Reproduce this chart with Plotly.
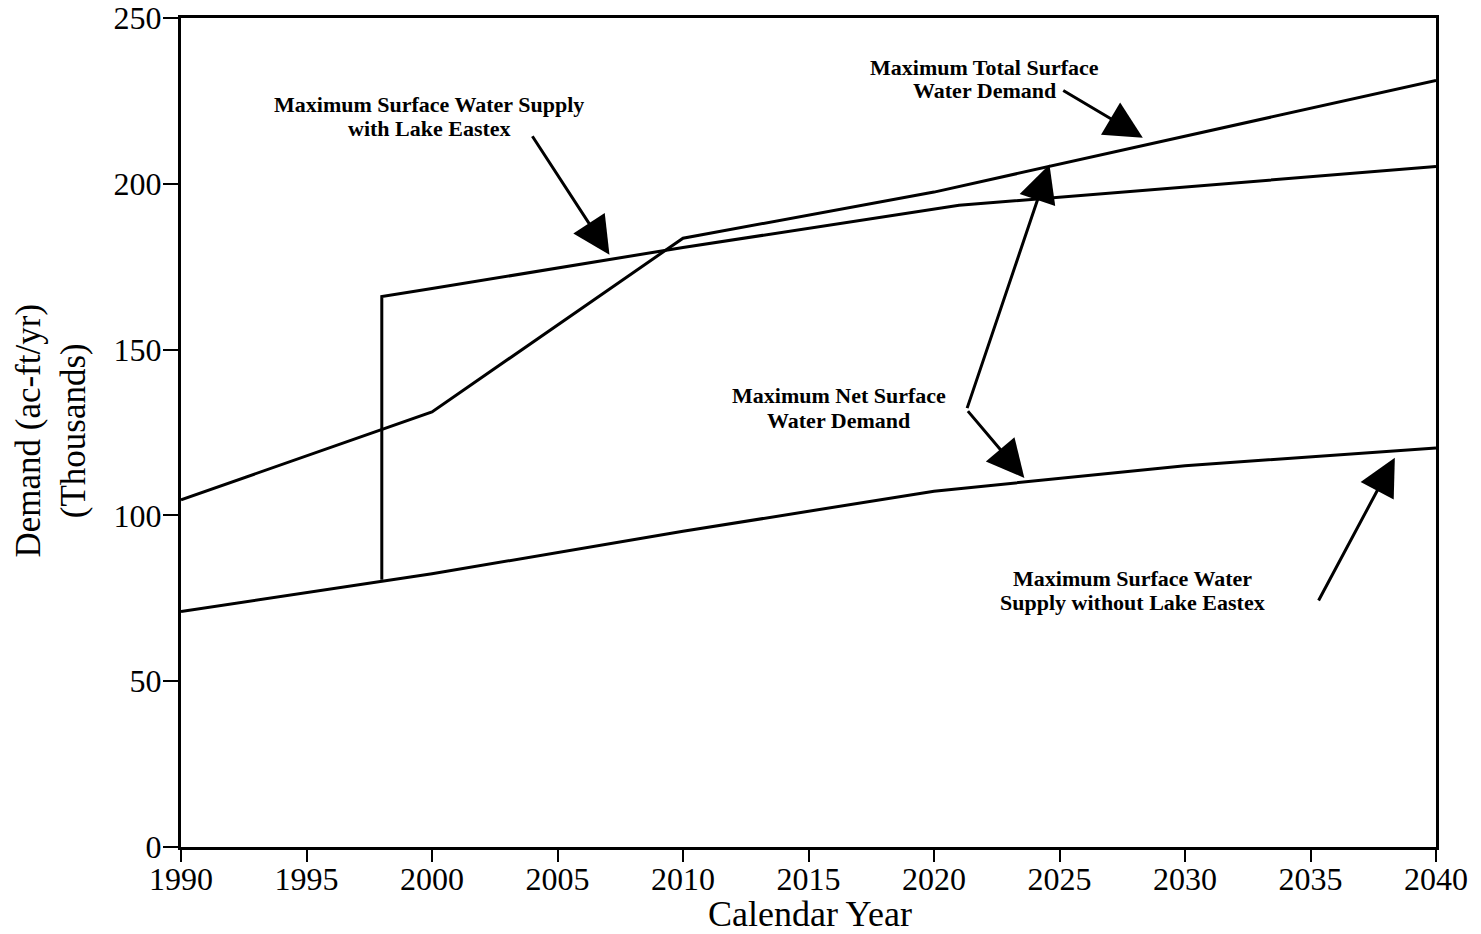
import plotly.graph_objects as go

# Data (thousands of ac-ft/yr)
demand_years = [1990, 2000, 2010, 2020, 2040]
demand_total = [104.7, 131.2, 183.6, 197.5, 231.2]

supply_with_years = [1998, 1998, 2000, 2010, 2021, 2040]
supply_with_vals = [80.6, 166.0, 168.4, 180.8, 193.5, 205.2]

supply_without_years = [1990, 2000, 2010, 2020, 2030, 2040]
supply_without_vals = [71.0, 82.4, 95.2, 107.3, 115.0, 120.3]

x_ticks = list(range(1990, 2041, 5))
y_ticks = [0, 50, 100, 150, 200, 250]

FONT = "Liberation Serif"

fig = go.Figure()
line_style = dict(color="black", width=3)
fig.add_trace(go.Scatter(x=demand_years, y=demand_total, mode="lines", line=line_style,
                         name="Maximum Total Surface Water Demand"))
fig.add_trace(go.Scatter(x=supply_with_years, y=supply_with_vals, mode="lines", line=line_style,
                         name="Maximum Surface Water Supply with Lake Eastex"))
fig.add_trace(go.Scatter(x=supply_without_years, y=supply_without_vals, mode="lines", line=line_style,
                         name="Maximum Surface Water Supply without Lake Eastex"))

# label lines: (text, x, y)
label_lines = [
    ("Maximum Surface Water Supply", 1999.9, 223.8),
    ("with Lake Eastex", 1999.9, 216.6),
    ("Maximum Total Surface", 2022.0, 235.0),
    ("Water Demand", 2022.0, 228.0),
    ("Maximum Net Surface", 2016.2, 136.1),
    ("Water Demand", 2016.2, 128.6),
    ("Maximum Surface Water", 2027.9, 81.0),
    ("Supply without Lake Eastex", 2027.9, 73.8),
]
arrows = [
    ((2003.96, 214.8), (2007.07, 178.6)),
    ((2025.09, 228.4), (2028.32, 213.9)),
    ((2021.3, 131.9), (2024.6, 205.8)),
    ((2021.3, 131.9), (2023.6, 111.3)),
    ((2035.29, 73.9), (2038.36, 117.4)),
]

annotations = []
for text, x, y in label_lines:
    annotations.append(dict(x=x, y=y, xref="x", yref="y", text="<b>" + text + "</b>",
                            showarrow=False, font=dict(family=FONT, size=22, color="black"),
                            align="center"))
for (tx, ty), (hx, hy) in arrows:
    annotations.append(dict(x=hx, y=hy, ax=tx, ay=ty, xref="x", yref="y", axref="x", ayref="y",
                            text="", showarrow=True, arrowhead=2, arrowsize=2.5, arrowwidth=3,
                            arrowcolor="black", standoff=0))

# axis titles
annotations.append(dict(x=0.501, y=-0.0805, xref="paper", yref="paper", text="Calendar Year",
                        showarrow=False, font=dict(family=FONT, size=36, color="black"),
                        xanchor="center", yanchor="middle"))
annotations.append(dict(x=-0.103, y=0.502, xref="paper", yref="paper",
                        text="Demand (ac-ft/yr)<br>(Thousands)", textangle=-90,
                        showarrow=False, font=dict(family=FONT, size=35, color="black"),
                        xanchor="center", yanchor="middle"))

fig.update_layout(
    width=1481, height=934,
    margin=dict(l=181, r=45, t=18, b=87),
    plot_bgcolor="white", paper_bgcolor="white",
    showlegend=False,
    font=dict(family=FONT, color="black"),
    annotations=annotations,
)
fig.update_xaxes(range=[1990, 2040], tickvals=x_ticks, ticks="outside", ticklen=12, tickwidth=2,
                 tickcolor="black", showline=True, linecolor="black", linewidth=3, mirror=True,
                 showgrid=False, zeroline=False, tickfont=dict(family=FONT, size=32),
                 ticklabelstandoff=-10, automargin=False)
fig.update_yaxes(range=[0, 250], tickvals=y_ticks, ticks="outside", ticklen=15, tickwidth=2,
                 tickcolor="black", showline=True, linecolor="black", linewidth=3, mirror=True,
                 showgrid=False, zeroline=False, tickfont=dict(family=FONT, size=32),
                 ticklabelstandoff=-5, automargin=False)

fig.write_html("out.html", config={"displayModeBar": False},
               post_script="document.body.style.margin='0';")
